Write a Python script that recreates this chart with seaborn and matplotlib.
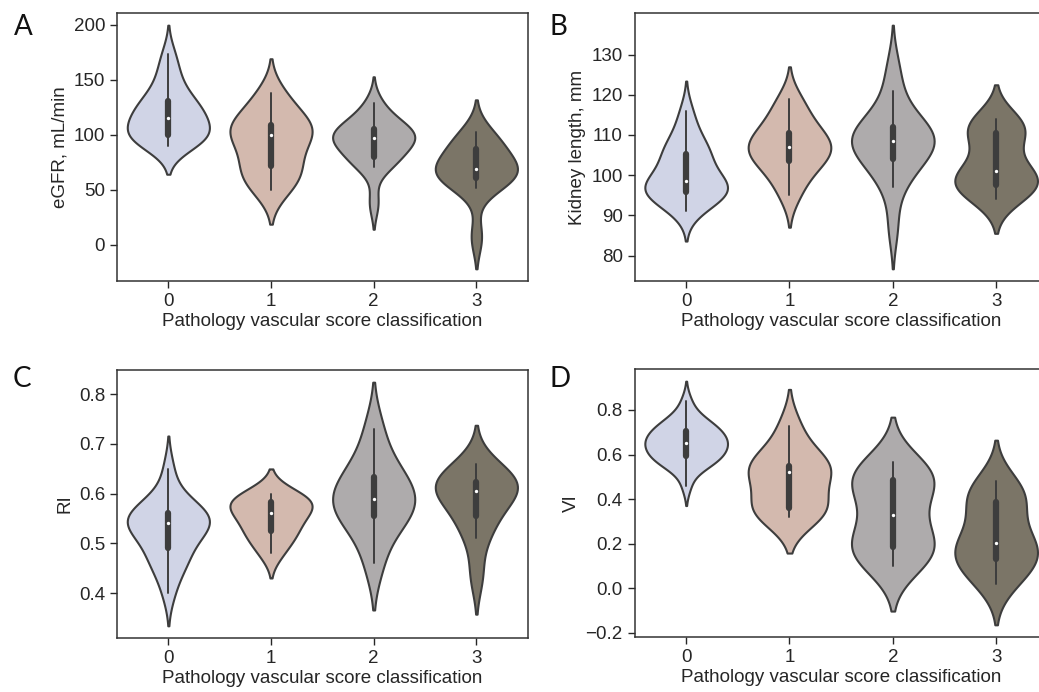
import numpy as np
import pandas as pd
import matplotlib
matplotlib.use("Agg")
import matplotlib.pyplot as plt
import seaborn as sns

groups = ["0", "1", "2", "3"]

# Panel A: eGFR, mL/min
egfr_0 = [90, 92, 95, 97, 98, 100, 103, 106, 110, 113, 117, 120, 122, 126, 130, 134, 140, 150, 160, 174]
egfr_1 = [50, 55, 62, 70, 73, 82, 92, 100, 102, 105, 108, 110, 118, 130, 138]
egfr_2 = [38, 71, 74, 78, 80, 88, 93, 95, 97, 98, 99, 101, 105, 108, 112, 118, 129]
egfr_3 = [7, 52, 58, 61, 64, 67, 69, 71, 75, 87, 90, 95, 103]

# Panel B: Kidney length, mm
kl_0 = [91, 93, 94, 95, 95.5, 96, 96, 97, 98, 98, 99, 100, 102, 104, 105, 106, 107, 109, 112, 116]
kl_1 = [95, 99, 102, 103.5, 105, 106, 107, 108, 109.5, 110.5, 113, 116, 119]
kl_2 = [87, 97, 100, 103, 104, 106, 107, 108, 108.5, 109, 110, 111, 112, 113, 116, 121, 127]
kl_3 = [94, 96, 97, 97.5, 98.5, 100, 101, 103, 108, 110.5, 111.5, 113, 114]

# Panel C: RI
ri_0 = [0.40, 0.44, 0.46, 0.47, 0.48, 0.50, 0.52, 0.52, 0.53, 0.54, 0.54, 0.55, 0.55,
        0.56, 0.56, 0.57, 0.58, 0.60, 0.65]
ri_1 = [0.48, 0.51, 0.52, 0.54, 0.555, 0.565, 0.58, 0.585, 0.59, 0.60]
ri_2 = [0.46, 0.53, 0.55, 0.57, 0.585, 0.595, 0.61, 0.64, 0.66, 0.73]
ri_3 = [0.435, 0.51, 0.54, 0.56, 0.59, 0.60, 0.61, 0.615, 0.62, 0.63, 0.64, 0.66]

# Panel D: VI
vi_0 = [0.46, 0.53, 0.55, 0.56, 0.57, 0.58, 0.59, 0.60, 0.61, 0.62, 0.63, 0.64, 0.645,
        0.655, 0.66, 0.67, 0.68, 0.69, 0.70, 0.71, 0.72, 0.73, 0.74, 0.76, 0.78, 0.84]
vi_1 = [0.32, 0.34, 0.35, 0.37, 0.44, 0.52, 0.53, 0.54, 0.56, 0.62, 0.73]
vi_2 = [0.10, 0.14, 0.17, 0.19, 0.22, 0.30, 0.36, 0.45, 0.48, 0.50, 0.52, 0.565]
vi_3 = [0.02, 0.07, 0.11, 0.14, 0.17, 0.19, 0.22, 0.28, 0.38, 0.40, 0.43, 0.48]

ylabels = ["eGFR, mL/min", "Kidney length, mm", "RI", "VI"]
yticks = [[0, 50, 100, 150, 200], [80, 90, 100, 110, 120, 130],
          [0.4, 0.5, 0.6, 0.7, 0.8], [-0.2, 0.0, 0.2, 0.4, 0.6, 0.8]]
panel_letters = ["A", "B", "C", "D"]
xlabel = "Pathology vascular score classification"
colors = ["#d0d4e6", "#d3b9ae", "#aeabac", "#7b7567"]

panels = [
    [egfr_0, egfr_1, egfr_2, egfr_3],
    [kl_0, kl_1, kl_2, kl_3],
    [ri_0, ri_1, ri_2, ri_3],
    [vi_0, vi_1, vi_2, vi_3],
]

sns.set_style("ticks")
plt.rcParams["font.family"] = ["Liberation Sans", "DejaVu Sans"]
plt.rcParams["axes.unicode_minus"] = True

fig = plt.figure(figsize=(10.39, 6.92), dpi=100)
W, H = 1039.0, 692.0
rects = [
    (117, 13, 410.7, 268),
    (634.5, 13, 413.3, 268),
    (117, 370, 410.7, 268),
    (634.5, 369, 413.3, 268),
]
letter_pos = [(14, 14), (550, 14), (13, 366), (549, 366)]
txt = "#262626"

for i, (vals, (l, t, w, h)) in enumerate(zip(panels, rects)):
    ax = fig.add_axes([l / W, 1 - (t + h) / H, w / W, h / H])
    df = pd.DataFrame({
        "group": np.concatenate([[g] * len(v) for g, v in zip(groups, vals)]),
        "value": np.concatenate(vals),
    })
    sns.violinplot(data=df, x="group", y="value", hue="group", order=groups,
                   hue_order=groups, palette=colors, saturation=1, legend=False,
                   linewidth=1.5, linecolor="#3d3d3d", inner="box",
                   inner_kws=dict(box_width=4.5, whis_width=1.4, color="#3d3d3d",
                                  marker=".", markersize=3), ax=ax)
    ax.set_yticks(yticks[i])
    if i == 3:
        ax.set_yticklabels(["\u22120.2", "0.0", "0.2", "0.4", "0.6", "0.8"])
    ax.set_xlabel(xlabel, fontsize=13.5, color=txt, labelpad=2)
    ax.set_ylabel(ylabels[i], fontsize=13.5, color=txt, labelpad=4)
    ax.tick_params(labelsize=13.5, colors=txt, length=5, width=1)
    for s in ax.spines.values():
        s.set_linewidth(1.1)
        s.set_color("#333333")
    fig.text(letter_pos[i][0] / W, 1 - letter_pos[i][1] / H, panel_letters[i],
             fontsize=20, family=["Lato", "DejaVu Sans"], va="top", ha="left",
             color="#111111")

fig.savefig("out.png", dpi=100)
